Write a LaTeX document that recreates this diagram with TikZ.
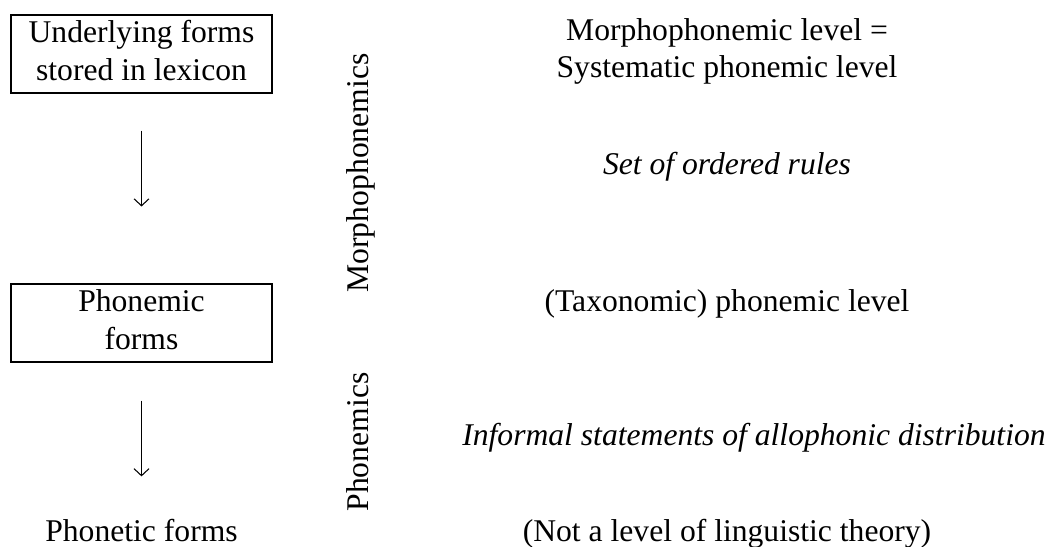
\documentclass[tikz,border=0pt]{standalone}
\usepackage{fontspec}
\setmainfont{Liberation Serif}
\usepackage{tikz}
\usetikzlibrary{arrows.meta,positioning}

\begin{document}
\begin{tikzpicture}[
  x=0.02cm,y=-0.02cm,
  font=\fontsize{18pt}{21.5pt}\selectfont,
  formbox/.style={rectangle,draw,line width=0.6pt,inner sep=0pt,
                  minimum width=5.22cm,minimum height=1.56cm,align=center},
  plainform/.style={inner sep=0pt,anchor=base},
  levelnote/.style={inner sep=0pt,align=center},
  sidelabel/.style={inner sep=0pt,anchor=base,rotate=90},
  arrow/.style={-{Straight Barb[length=0.14cm,width=0.30cm]},line width=0.6pt},
]
  \useasboundingbox (0,0) rectangle (1052,547);

  % forms column
  \node[formbox] (under) at (141.5,54) {\strut Underlying forms\\stored in lexicon\strut};
  \node[formbox] (phonemic) at (141.5,323) {\strut Phonemic\\forms\strut};
  \node[plainform] (phonetic) at (141.5,541) {Phonetic forms};

  \draw[arrow,shorten <=0.74cm,shorten >=1.54cm] (under) -- (phonemic);
  \draw[arrow,shorten <=0.76cm,shorten >=0.84cm] (phonemic) -- (phonetic);

  % vertical labels
  \node[sidelabel] (morphlab) at (368,173) {Morphophonemics};
  \node[sidelabel] (phonlab) at (368,442) {Phonemics};

  % levels and rules
  \node[levelnote] (syslevel) at (727,51.5) {Morphophonemic level =\\Systematic phonemic level};
  \node[plainform] (rules) at (727,175) {\itshape Set of ordered rules};
  \node[plainform] (taxlevel) at (727,312) {(Taxonomic) phonemic level};
  \node[plainform] (allo) at (754,445) {\itshape Informal statements of allophonic distribution};
  \node[plainform] (nolevel) at (727,541) {(Not a level of linguistic theory)};
\end{tikzpicture}
\end{document}
